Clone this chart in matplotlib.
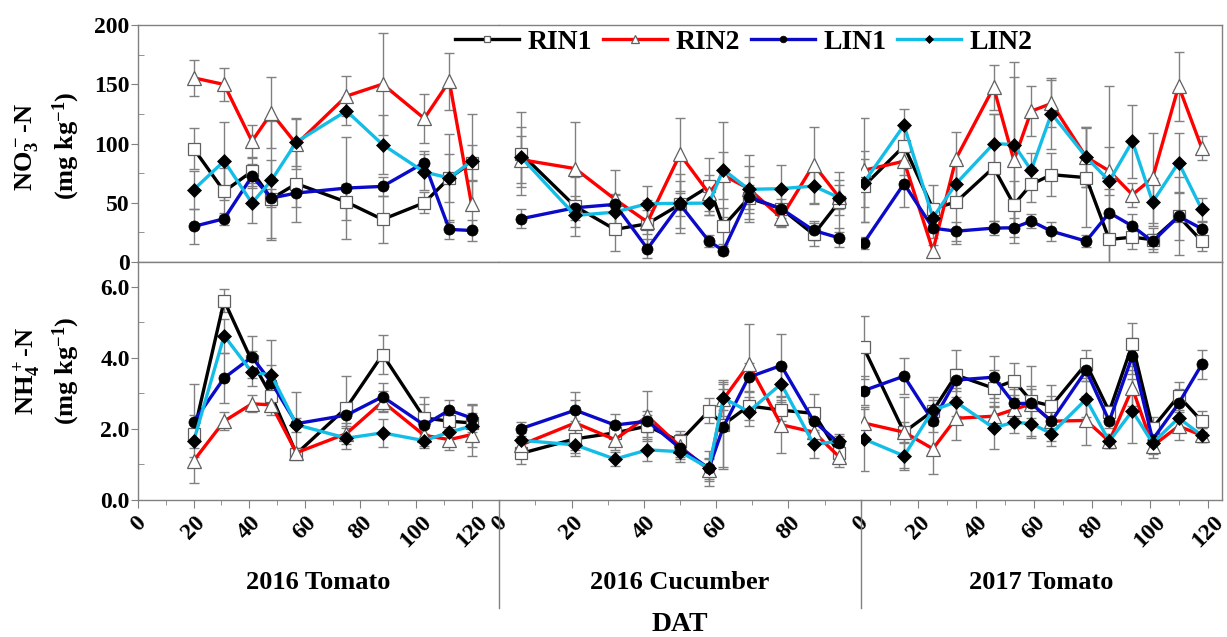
import numpy as np
import matplotlib
matplotlib.use("Agg")
import matplotlib.pyplot as plt
from matplotlib.ticker import MultipleLocator, FormatStrFormatter

plt.rcParams['font.family'] = ['Liberation Serif', 'DejaVu Serif']
plt.rcParams['font.weight'] = 'bold'
plt.rcParams['mathtext.fontset'] = 'custom'
plt.rcParams['mathtext.rm'] = 'Liberation Serif:bold'
plt.rcParams['mathtext.bf'] = 'Liberation Serif:bold'
plt.rcParams['mathtext.default'] = 'bf'

# cultivos (segmentos del eje x)
crops = ["2016 Tomato", "2016 Cucumber", "2017 Tomato"]
crop_xmax = [130, 100, 125]
crop_xticks = [list(range(0, 121, 20)), list(range(0, 81, 20)), list(range(0, 121, 20))]
n_per_crop = [10, 11, 14]

# dias despues del trasplante (DAT), los tres cultivos seguidos
days = [20, 31, 41, 48, 57, 75, 88, 103, 112, 120,
        6, 21, 32, 41, 50, 58, 62, 69, 78, 87, 94,
        1, 15, 25, 33, 46, 53, 59, 66, 78, 86, 94, 101, 110, 118]

series = ["RIN1", "RIN2", "LIN1", "LIN2"]

# NO3- -N (mg/kg)
no3_rin1 = [95.7, 59.6, 76.5, 53.4, 66.1, 50.6, 35.9, 50.0, 70.9, 83.9,
            91.5, 46.9, 27.5, 32.3, 48.6, 63.8, 30.3, 54.0, 45.0, 23.3, 50.6,
            63.8, 97.9, 45.0, 50.6, 79.7, 48.4, 65.5, 73.7, 71.2, 19.0, 21.0, 18.8, 38.5, 17.6]
no3_rin2 = [155.4, 149.8, 101.9, 125.8, 99.4, 140.0, 150.1, 121.1, 152.6, 48.6,
            86.4, 78.8, 52.9, 33.7, 90.9, 58.0, 73.2, 61.9, 37.4, 82.2, 54.8,
            77.4, 85.0, 9.7, 87.3, 147.3, 85.8, 127.3, 133.8, 88.6, 76.8, 56.8, 70.9, 148.4, 96.2]
no3_lin1 = [30.0, 36.5, 72.3, 54.0, 58.2, 62.4, 63.8, 83.9, 27.5, 26.6,
            36.5, 45.8, 48.6, 11.2, 48.6, 17.6, 9.7, 55.0, 45.0, 26.6, 20.4,
            15.9, 66.1, 28.6, 26.0, 28.6, 28.9, 34.5, 26.0, 17.6, 41.6, 30.3, 17.3, 38.5, 28.1]
no3_lin2 = [61.0, 85.2, 49.7, 68.9, 101.3, 127.5, 99.1, 75.9, 70.9, 85.2,
            88.6, 39.3, 42.1, 49.2, 49.5, 49.7, 78.0, 61.3, 61.9, 64.1, 54.3,
            66.7, 115.4, 37.4, 66.1, 99.9, 99.1, 77.4, 125.3, 88.6, 68.3, 101.9, 50.6, 83.9, 44.4]

no3_rin1_err = [17, 20, 12, 33, 32, 15, 20, 9, 37, 15,
                35, 25, 18, 20, 20, 24, 15, 18, 15, 10, 25,
                30, 15, 20, 35, 45, 20, 15, 18, 42, 20, 10, 10, 33, 8]
no3_rin2_err = [15, 14, 14, 30, 21, 17, 43, 21, 24, 20,
                20, 39, 25, 10, 31, 15, 20, 28, 8, 32, 10,
                44, 12, 5, 22, 19, 70, 21, 20, 25, 20, 10, 38, 29, 10]
no3_lin1_err = [15, 5, 10, 8, 12, 43, 8, 10, 8, 9,
                8, 10, 8, 8, 10, 5, 4, 10, 8, 8, 8,
                5, 20, 8, 8, 6, 8, 6, 8, 5, 20, 10, 6, 20, 6]
no3_lin2_err = [16, 33, 17, 50, 20, 12, 25, 15, 20, 40,
                25, 10, 15, 15, 25, 10, 40, 20, 20, 15, 15,
                20, 14, 10, 20, 25, 70, 15, 30, 25, 80, 31, 20, 25, 10]

# NH4+ -N (mg/kg)
nh4_rin1 = [1.86, 5.61, 3.90, 2.92, 1.29, 2.59, 4.09, 2.30, 2.21, 2.16,
            1.30, 1.71, 1.88, 2.07, 1.64, 2.50, 2.11, 2.64, 2.52, 2.43, 1.30,
            4.29, 1.90, 2.50, 3.51, 3.14, 3.35, 2.78, 2.64, 3.83, 2.48, 4.38, 2.02, 2.92, 2.21]
nh4_rin2 = [1.09, 2.21, 2.70, 2.67, 1.32, 1.86, 2.76, 1.81, 1.69, 1.83,
            1.54, 2.16, 1.69, 2.35, 1.50, 0.83, 2.83, 3.81, 2.11, 1.90, 1.21,
            2.16, 1.90, 1.43, 2.29, 2.35, 2.54, 2.70, 2.21, 2.23, 1.64, 3.14, 1.51, 2.07, 1.81]
nh4_lin1 = [2.19, 3.43, 4.02, 3.30, 2.14, 2.38, 2.90, 2.10, 2.52, 2.30,
            2.00, 2.52, 2.10, 2.21, 1.45, 0.88, 2.05, 3.45, 3.78, 2.21, 1.59,
            3.07, 3.48, 2.21, 3.37, 3.45, 2.71, 2.71, 2.21, 3.64, 2.21, 4.05, 1.69, 2.71, 3.81]
nh4_lin2 = [1.64, 4.62, 3.59, 3.51, 2.11, 1.73, 1.88, 1.66, 1.90, 2.07,
            1.67, 1.54, 1.14, 1.40, 1.35, 0.88, 2.86, 2.48, 3.26, 1.56, 1.64,
            1.71, 1.23, 2.52, 2.75, 2.02, 2.18, 2.14, 1.86, 2.83, 1.64, 2.50, 1.59, 2.30, 1.81]

nh4_rin1_err = [1.4, 0.33, 0.3, 0.4, 0.15, 0.88, 0.55, 0.6, 0.3, 0.5,
                0.3, 0.3, 0.3, 0.3, 0.3, 0.35, 1.2, 0.4, 0.3, 0.55, 0.2,
                0.88, 1.0, 0.4, 0.7, 0.5, 0.5, 1.0, 0.6, 0.4, 0.2, 0.6, 0.3, 0.4, 0.3]
nh4_rin2_err = [0.1, 0.25, 0.24, 0.3, 0.1, 0.3, 0.3, 0.2, 0.3, 0.6,
                0.2, 0.86, 0.3, 0.7, 0.3, 0.3, 0.3, 1.14, 0.8, 0.3, 0.3,
                0.4, 0.3, 0.7, 0.6, 0.4, 0.4, 0.5, 0.4, 0.7, 0.2, 0.5, 0.35, 0.4, 0.2]
nh4_lin1_err = [0.2, 0.7, 0.6, 0.5, 0.9, 0.3, 0.4, 0.6, 0.3, 0.4,
                0.2, 0.3, 0.3, 0.3, 0.4, 0.5, 1.2, 0.4, 0.88, 0.3, 0.2,
                0.4, 0.5, 0.3, 0.3, 0.6, 0.4, 0.4, 0.7, 0.3, 0.2, 0.5, 0.3, 0.4, 0.4]
nh4_lin2_err = [0.2, 0.48, 0.4, 1.0, 0.2, 0.3, 0.4, 0.2, 0.3, 0.6,
                0.2, 0.3, 0.2, 0.3, 0.2, 0.3, 0.5, 0.4, 0.5, 0.4, 0.2,
                0.9, 0.4, 0.3, 0.4, 0.6, 0.3, 0.4, 0.2, 0.5, 0.2, 0.9, 0.3, 0.4, 0.2]

paneles = [
    ([no3_rin1, no3_rin2, no3_lin1, no3_lin2],
     [no3_rin1_err, no3_rin2_err, no3_lin1_err, no3_lin2_err]),
    ([nh4_rin1, nh4_rin2, nh4_lin1, nh4_lin2],
     [nh4_rin1_err, nh4_rin2_err, nh4_lin1_err, nh4_lin2_err]),
]

estilos = {
    "RIN1": dict(color="black", marker="s", ms=8, mfc="white", mec="#606060", mew=0.9),
    "RIN2": dict(color="#ff0000", marker="^", ms=9.5, mfc="white", mec="#606060", mew=0.9),
    "LIN1": dict(color="#0a0ac8", marker="o", ms=8, mfc="black", mec="black", mew=0.5),
    "LIN2": dict(color="#14bde6", marker="D", ms=7, mfc="black", mec="black", mew=0.5),
}

gris = "#808080"
W, H = 1227, 637
fig = plt.figure(figsize=(W / 100, H / 100), dpi=100)

x0, x1 = 138 / W, 1222 / W
wcol = (x1 - x0) / 3
filas = [(1 - 262 / H, (262 - 25) / H), (1 - 499.5 / H, (499.5 - 262) / H)]

cortes = np.cumsum([0] + n_per_crop)
axes = [[None] * 3 for _ in range(2)]
for r in range(2):
    valores, errores = paneles[r]
    for c in range(3):
        sharey = axes[r][0] if c > 0 else None
        ax = fig.add_axes([x0 + c * wcol, filas[r][0], wcol, filas[r][1]], sharey=sharey)
        axes[r][c] = ax
        sl = slice(cortes[c], cortes[c + 1])
        d = days[sl]
        for i, s in enumerate(series):
            ax.errorbar(d, valores[i][sl], yerr=errores[i][sl], fmt="none",
                        ecolor=gris, elinewidth=1, capsize=3.5, capthick=1, zorder=1)
        for i, s in enumerate(series):
            ax.plot(d, valores[i][sl], lw=2.4, label=s, zorder=3 + i, **estilos[s])

        ax.set_xlim(0, crop_xmax[c])
        for sp in ax.spines.values():
            sp.set_color(gris)
            sp.set_linewidth(1)
        if c > 0:
            ax.spines["left"].set_visible(False)
        if c < 2:
            ax.spines["right"].set_visible(False)

        if r == 0:
            ax.set_ylim(0, 200)
            ax.yaxis.set_major_locator(MultipleLocator(50))
            ax.yaxis.set_minor_locator(MultipleLocator(25))
            ax.tick_params(axis="x", which="both", bottom=False, labelbottom=False)
        else:
            ax.set_ylim(0, 6.7)
            ax.yaxis.set_major_locator(MultipleLocator(2))
            ax.yaxis.set_minor_locator(MultipleLocator(1))
            ax.yaxis.set_major_formatter(FormatStrFormatter("%.1f"))
            ax.set_xticks(crop_xticks[c])
            ax.xaxis.set_minor_locator(MultipleLocator(10))
            ax.tick_params(axis="x", which="major", direction="out", length=6,
                           color=gris, labelsize=17, labelrotation=45, pad=3)
            ax.tick_params(axis="x", which="minor", direction="out", length=3.5, color=gris)
            # separadores entre cultivos debajo del eje
            if c > 0:
                ax.plot([0, 0], [0, -0.455], transform=ax.transAxes, clip_on=False,
                        color=gris, lw=1)
            ax.text(0.5, -0.35, crops[c], transform=ax.transAxes, ha="center",
                    va="center", fontsize=19)

        if c == 0:
            ax.tick_params(axis="y", which="major", direction="out", length=5,
                           color=gris, labelsize=17, pad=1)
            ax.tick_params(axis="y", which="minor", direction="in", length=4, color=gris)
        else:
            ax.tick_params(axis="y", which="both", left=False, labelleft=False)

# etiquetas del eje y
fig.text(0.022, 0.769, r"NO$_3^-$-N", rotation=90, ha="center", va="center", fontsize=19)
fig.text(0.054, 0.772, r"(mg kg$^{-1}$)", rotation=90, ha="center", va="center", fontsize=19)
fig.text(0.022, 0.418, r"NH$_4^+$-N", rotation=90, ha="center", va="center", fontsize=19)
fig.text(0.054, 0.418, r"(mg kg$^{-1}$)", rotation=90, ha="center", va="center", fontsize=19)
fig.text((x0 + x1) / 2, 0.02, "DAT", ha="center", va="center", fontsize=20)

handles, labels = axes[0][0].get_legend_handles_labels()
fig.legend(handles, labels, loc="center", bbox_to_anchor=(744 / W, 1 - 42 / H), ncol=4,
           frameon=False, fontsize=20, handlelength=2.3, handletextpad=0.3,
           columnspacing=0.4, markerscale=0.6)

fig.savefig("out.png", dpi=100)
